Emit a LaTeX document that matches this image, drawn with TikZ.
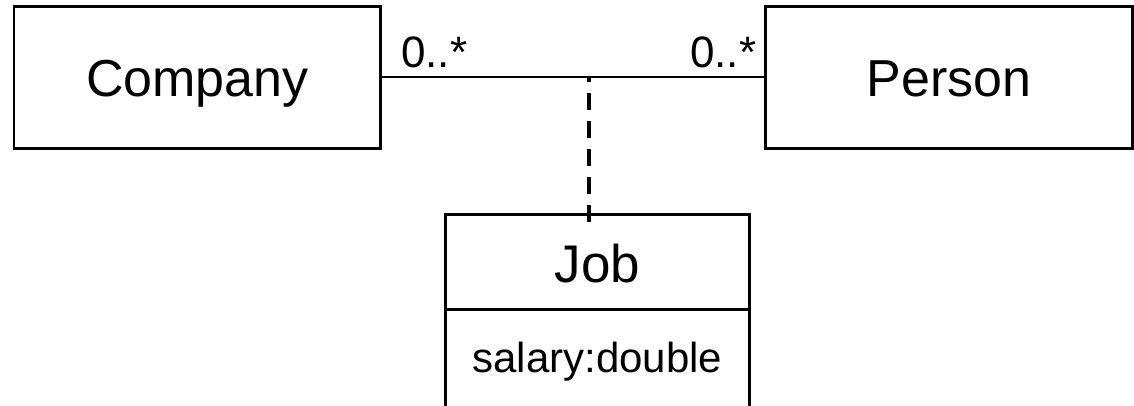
\documentclass[tikz,border=0pt]{standalone}
\usepackage{fontspec}
\setmainfont{Liberation Sans}
\begin{document}
\begin{tikzpicture}[x=1pt,y=-1pt,
  classbox/.style={draw=black, line width=2.5pt, rectangle, inner sep=0pt, align=center},
  assocline/.style={draw=black, line width=2pt},
  assocdash/.style={draw=black, line width=4pt, dash pattern=on 17pt off 11pt, dash phase=12pt},
  multlabel/.style={inner sep=0pt, anchor=base west, font=\fontsize{44}{48}\selectfont}
]
\useasboundingbox (0,0) rectangle (1134,405);
\clip (0,0) rectangle (1134,405);
\fill[white] (0,0) rectangle (1134,405);

\node[classbox, minimum width=366.8pt, minimum height=142.2pt,
      font=\fontsize{52}{56}\selectfont, text height=39pt, text depth=0pt]
  (company) at (197.3,77.4) {Company};
\node[classbox, minimum width=367.2pt, minimum height=142.2pt,
      font=\fontsize{52}{56}\selectfont, text height=39pt, text depth=0pt]
  (person) at (949.1,77.4) {Person};

\node[classbox, minimum width=304.2pt, minimum height=94.8pt,
      font=\fontsize{53}{57}\selectfont, text height=40pt, text depth=0pt]
  (jobname) at (597.4,262.1) {Job};
\node[classbox, minimum width=304.2pt, minimum height=120pt,
      font=\fontsize{42}{46}\selectfont, text height=5pt, text depth=0pt]
  (jobattr) at (597.4,369.5) {salary:double};

\draw[assocline] (company.east) -- (person.west);
\coordinate (assocpt) at (589.3,77.4);
\coordinate (dashend) at (589.3,222);
\draw[assocdash] (assocpt) -- (dashend);

\node[multlabel] (multleft) at (401,67) {0..*};
\node[multlabel] (multright) at (690,67) {0..*};
\end{tikzpicture}
\end{document}
